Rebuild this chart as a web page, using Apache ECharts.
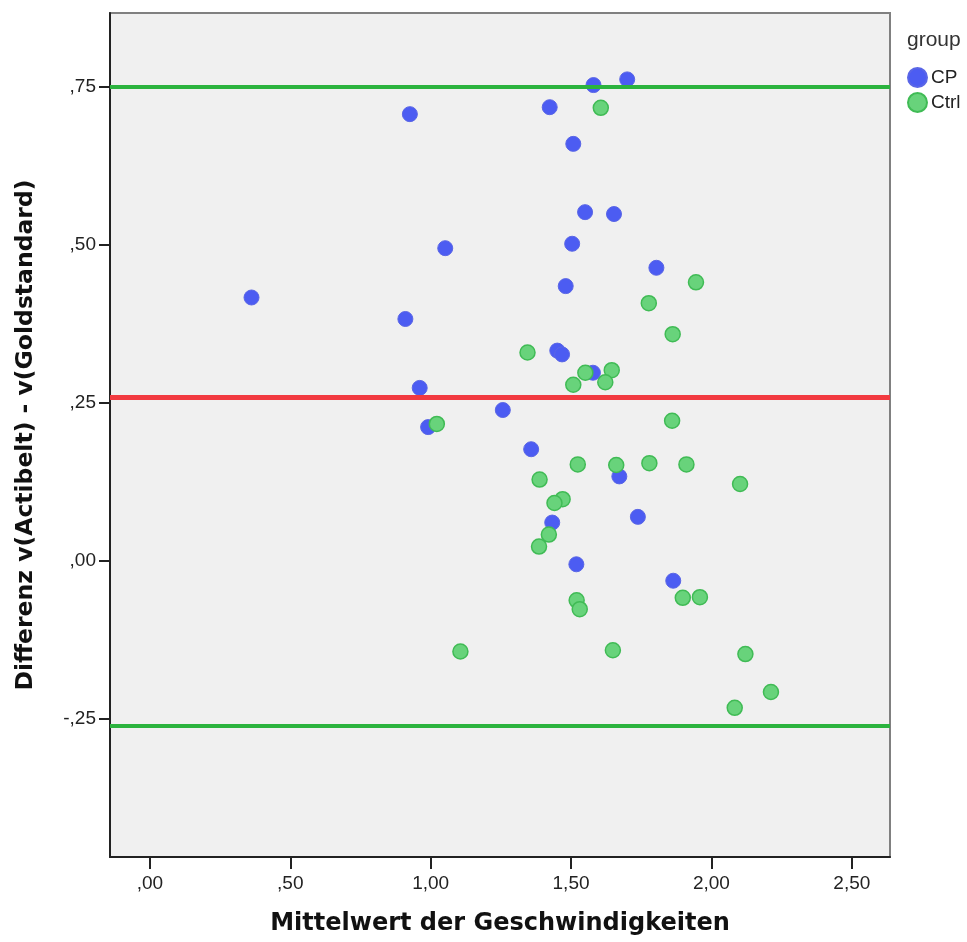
<!DOCTYPE html>
<html>
<head>
<meta charset="utf-8">
<script src="https://cdn.jsdelivr.net/npm/echarts@6/dist/echarts.min.js"></script>
<style>
html,body{margin:0;padding:0;background:#fff;}
#chart{width:967px;height:942px;}
</style>
</head>
<body>
<div id="chart"></div>
<script>
// ---- data ----
const seriesNames = ['CP', 'Ctrl'];
const cpX = [1.580,1.700,0.926,1.424,1.508,1.550,1.653,1.052,1.504,1.804,1.481,0.362,0.910,1.451,1.468,1.578,0.961,1.257,0.991,1.358,1.672,1.738,1.433,1.519,1.864];
const cpY = [0.753,0.762,0.707,0.718,0.660,0.552,0.549,0.495,0.502,0.464,0.435,0.417,0.383,0.333,0.327,0.298,0.274,0.239,0.212,0.177,0.134,0.070,0.061,-0.005,-0.031];
const ctrlX = [1.606,1.945,1.777,1.862,1.345,1.645,1.551,1.622,1.508,1.860,1.022,1.524,1.661,1.779,1.911,2.102,1.388,1.470,1.441,1.421,1.386,1.520,1.531,1.898,1.959,1.106,1.649,2.121,2.212,2.083];
const ctrlY = [0.717,0.441,0.408,0.359,0.330,0.302,0.298,0.283,0.279,0.222,0.217,0.153,0.152,0.155,0.153,0.122,0.129,0.098,0.092,0.042,0.023,-0.062,-0.076,-0.058,-0.057,-0.143,-0.141,-0.147,-0.207,-0.232];
const upperLimit = 0.749;
const meanDiff = 0.258;
const lowerLimit = -0.264;
const xTickValues = [0, 0.5, 1, 1.5, 2, 2.5];
const xTickLabels = [',00', ',50', '1,00', '1,50', '2,00', '2,50'];
const yTickValues = [-0.25, 0, 0.25, 0.5, 0.75];
const yTickLabels = ['-,25', ',00', ',25', ',50', ',75'];
const xRange = [-0.142, 2.636];
const yRange = [-0.468, 0.867];
const xTitle = 'Mittelwert der Geschwindigkeiten';
const yTitle = 'Differenz v(Actibelt) - v(Goldstandard)';
const legendTitle = 'group';

// ---- build ----
const zip = (xs, ys) => xs.map((x, i) => [x, ys[i]]);
const fmt = (vals, labs) => (v) => {
  const i = vals.findIndex(t => Math.abs(t - v) < 1e-9);
  return i >= 0 ? labs[i] : '';
};

const chart = echarts.init(document.getElementById('chart'), null, {renderer: 'canvas'});
const labelFont = 'Liberation Sans, Arial, sans-serif';
const titleFont = 'DejaVu Sans, sans-serif';

chart.setOption({
  animation: false,
  backgroundColor: '#ffffff',
  title: {
    text: legendTitle, left: 907, top: 30, padding: 0,
    textStyle: {fontFamily: labelFont, fontSize: 21, fontWeight: 'normal', color: '#333'}
  },
  legend: {
    orient: 'vertical', left: 907, top: 67, padding: 0,
    itemWidth: 19, itemHeight: 19, itemGap: 4, icon: 'circle',
    textStyle: {fontFamily: labelFont, fontSize: 19, color: '#222', padding: [0, 0, 0, -1]},
    data: seriesNames
  },
  grid: {
    left: 110, right: 77, top: 13, bottom: 85,
    show: true, backgroundColor: '#f0f0f0', borderColor: '#808080', borderWidth: 2
  },
  xAxis: {
    type: 'value', min: xRange[0], max: xRange[1],
    name: xTitle, nameLocation: 'middle', nameGap: 55,
    nameTextStyle: {fontFamily: titleFont, fontSize: 24, fontWeight: 'bold', color: '#111'},
    axisLine: {show: true, onZero: false, lineStyle: {color: '#222', width: 2}},
    axisTick: {show: true, length: 12, customValues: xTickValues, lineStyle: {color: '#222', width: 2}},
    axisLabel: {customValues: xTickValues, formatter: fmt(xTickValues, xTickLabels), margin: 17,
      fontFamily: labelFont, fontSize: 19, color: '#222'},
    splitLine: {show: false}
  },
  yAxis: {
    type: 'value', min: yRange[0], max: yRange[1],
    name: yTitle, nameLocation: 'middle', nameGap: 72, nameRotate: 90,
    nameTextStyle: {fontFamily: titleFont, fontSize: 23.5, fontWeight: 'bold', color: '#111'},
    axisLine: {show: true, onZero: false, lineStyle: {color: '#222', width: 2}},
    axisTick: {show: true, length: 11, customValues: yTickValues, lineStyle: {color: '#222', width: 2}},
    axisLabel: {customValues: yTickValues, formatter: fmt(yTickValues, yTickLabels), margin: 14,
      fontFamily: labelFont, fontSize: 19, color: '#222'},
    splitLine: {show: false}
  },
  series: [
    {
      name: seriesNames[0], type: 'scatter', symbolSize: 15, z: 3,
      itemStyle: {color: '#4c5cf2', borderColor: '#5a66e6', borderWidth: 1, opacity: 1},
      data: zip(cpX, cpY)
    },
    {
      name: seriesNames[1], type: 'scatter', symbolSize: 15, z: 4,
      itemStyle: {color: '#68d37b', borderColor: '#40bb55', borderWidth: 1.5, opacity: 1},
      data: zip(ctrlX, ctrlY)
    },
    {
      name: 'ref', type: 'scatter', data: [], z: 5, silent: true,
      markLine: {
        silent: true, symbol: 'none', animation: false,
        label: {show: false},
        data: [
          {yAxis: upperLimit, lineStyle: {color: '#2bb33e', width: 4, type: 'solid'}},
          {yAxis: meanDiff, lineStyle: {color: '#f23a40', width: 5, type: 'solid'}},
          {yAxis: lowerLimit, lineStyle: {color: '#2bb33e', width: 4, type: 'solid'}}
        ]
      }
    }
  ]
});
</script>
</body>
</html>
